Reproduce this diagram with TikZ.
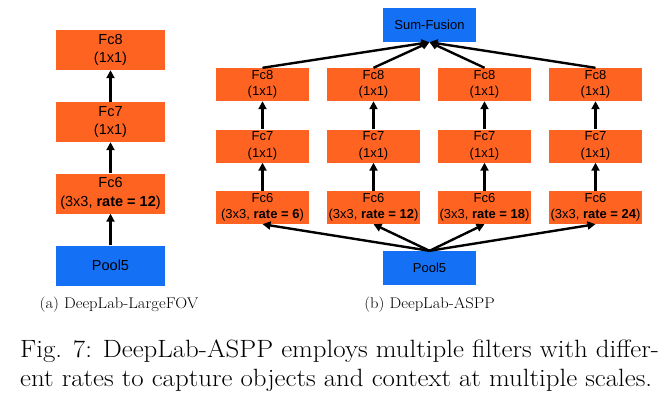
\documentclass[tikz,border=0pt]{standalone}
\usepackage{fontspec}
\newfontfamily\boxfont{Liberation Sans}
\usetikzlibrary{arrows.meta}
\definecolor{orangec}{RGB}{255,99,33}
\definecolor{bluec}{RGB}{20,112,245}
\tikzset{
  bigbox/.style={fill=orangec, draw=none, minimum width=109pt, minimum height=40pt, inner sep=0pt, align=center, font=\boxfont\fontsize{14.5}{18.5}\selectfont},
  bigblue/.style={bigbox, fill=bluec},
  smallbox/.style={fill=orangec, draw=none, minimum width=93pt, minimum height=33pt, inner sep=0pt, align=center, font=\boxfont\fontsize{13}{16.5}\selectfont},
  smallblue/.style={smallbox, fill=bluec, minimum height=34pt},
  arr/.style={line width=2.4pt, -{Triangle[length=8pt,width=8pt]}},
  subcap/.style={font=\fontsize{15.5}{18}\selectfont, inner sep=0pt, xscale=1.07},
  figcap/.style={font=\fontsize{25}{30}\selectfont, inner sep=0pt, anchor=base west, xscale=1.075},
}
\begin{document}
\begin{tikzpicture}[x=1pt,y=-1pt]
\useasboundingbox (0,0) rectangle (666,405);
% (a) LargeFOV
\node[bigbox] (la8) at (110.5,50) {Fc8\\(1x1)};
\node[bigbox] (la7) at (110.5,122) {Fc7\\(1x1)};
\node[bigbox] (la6) at (110.5,193.5) {Fc6\\(3x3, \textbf{rate = 12})};
\node[bigblue] (lp5) at (110.5,265.5) {Pool5};
\draw[arr] (la7.north) -- (la8.south);
\draw[arr] (la6.north) -- (la7.south);
\draw[arr] (lp5.north) -- (la6.south);
% (b) ASPP
\node[smallblue] (sum) at (429.5,25) {Sum-Fusion};
\node[smallblue] (rp5) at (429.5,268) {Pool5};
\foreach \i/\x/\r in {1/262.5/6, 2/373.5/12, 3/484.5/18, 4/595.5/24}{
  \node[smallbox] (f8\i) at (\x,84.5) {Fc8\\(1x1)};
  \node[smallbox] (f7\i) at (\x,146) {Fc7\\(1x1)};
  \node[smallbox] (f6\i) at (\x,207.5) {Fc6\\(3x3, \textbf{rate = \r})};
  \draw[arr] (f7\i.north) -- (f8\i.south);
  \draw[arr] (f6\i.north) -- (f7\i.south);
  \draw[arr] (f8\i.north) -- (sum.south);
  \draw[arr] (rp5.north) -- (f6\i.south);
}
% captions
\node[subcap] (capa) at (119,305) {(a) DeepLab-LargeFOV};
\node[subcap] (capb) at (429.5,305) {(b) DeepLab-ASPP};
\node[figcap] (cap1) at (20,357) {Fig. 7: DeepLab-ASPP employs multiple filters with differ-};
\node[figcap] (cap2) at (20,386) {ent rates to capture objects and context at multiple scales.};
\end{tikzpicture}
\end{document}
